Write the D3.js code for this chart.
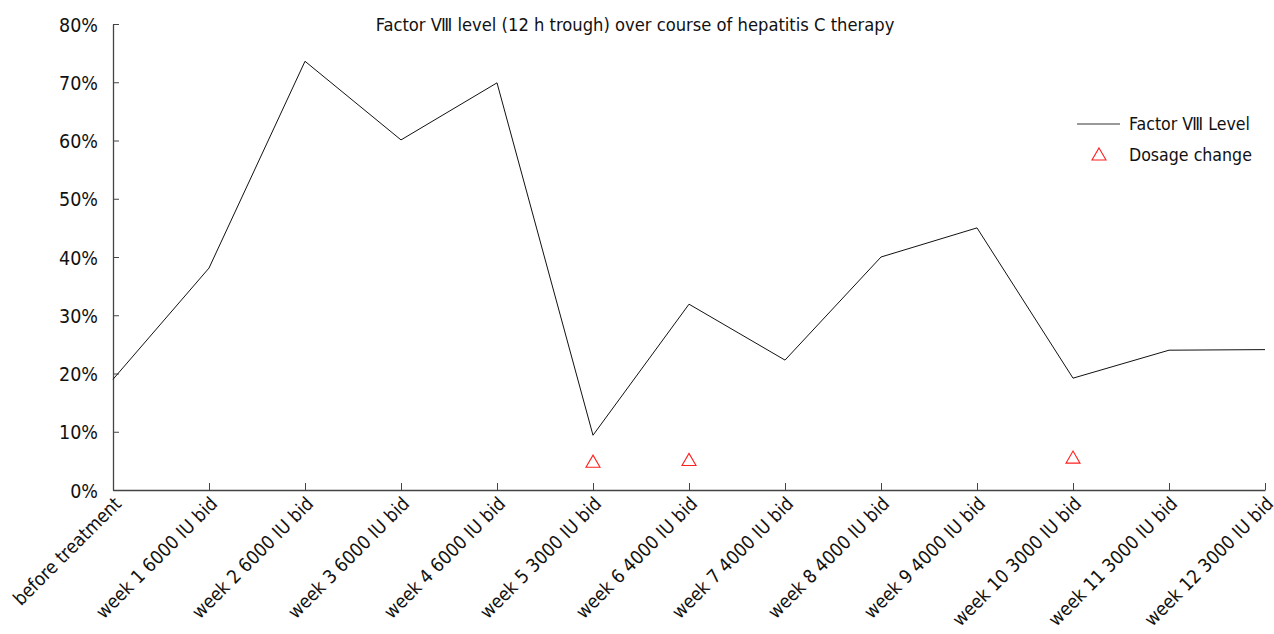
<!DOCTYPE html>
<html><head><meta charset="utf-8">
<script src="https://cdn.jsdelivr.net/npm/d3@7"></script>
<style>body{margin:0;background:#fff}svg{display:block}text{font-family:"DejaVu Sans Condensed","Noto Sans",sans-serif}</style>
</head><body><svg id="c" width="1274" height="634"></svg>
<script>
const categories = ["before treatment","week 1 6000 IU bid","week 2 6000 IU bid","week 3 6000 IU bid","week 4 6000 IU bid","week 5 3000 IU bid","week 6 4000 IU bid","week 7 4000 IU bid","week 8 4000 IU bid","week 9 4000 IU bid","week 10 3000 IU bid","week 11 3000 IU bid","week 12 3000 IU bid"];
const factorLevel = [19, 38.1, 73.6, 60.1, 69.9, 9.4, 31.9, 22.3, 40, 45, 19.2, 24, 24.1];
const dosageCategories = ["week 5 3000 IU bid","week 6 4000 IU bid","week 10 3000 IU bid"];
const dosageValues = [4.6, 4.9, 5.3];
const yTicks = [0,10,20,30,40,50,60,70,80];
const title = "Factor \u2167 level (12 h trough) over course of hepatitis C therapy";

(function(){
const svg = d3.select("#c");
const mLeft = 113, mRight = 1265, mTop = 24, mBottom = 490;
const x = d3.scalePoint().domain(categories).range([mLeft, mRight]);
const y = d3.scaleLinear().domain([0,80]).range([mBottom, mTop]);

const yAxis = svg.append("g").attr("transform",`translate(${mLeft},0)`)
  .call(d3.axisRight(y).tickValues(yTicks).tickSize(6).tickSizeOuter(0).tickFormat(d=>d+"%"));
yAxis.select(".domain").attr("stroke","#444").attr("stroke-width",1.3);
yAxis.selectAll(".tick line").attr("stroke","#444");
yAxis.selectAll(".tick text").attr("x",-15).attr("dy","0.36em").attr("text-anchor","end").attr("font-size",19.5).attr("fill","#111");

const xAxis = svg.append("g").attr("transform",`translate(0,${mBottom})`)
  .call(d3.axisTop(x).tickSize(7).tickSizeOuter(0).tickFormat(()=>""));
xAxis.select(".domain").attr("stroke","#444").attr("stroke-width",1.3);
xAxis.selectAll(".tick line").attr("stroke","#444");
xAxis.selectAll(".tick").append("text")
  .attr("transform","translate(9,15) rotate(-45)")
  .attr("text-anchor","end").attr("font-size",18.7).attr("fill","#111")
  .text(d=>d);

svg.append("path").datum(factorLevel)
  .attr("fill","none").attr("stroke","#111").attr("stroke-width",1)
  .attr("d", d3.line().x((d,i)=>x(categories[i])).y(d=>y(d)));

const tri = d3.symbol().type(d3.symbolTriangle).size(85);
svg.selectAll(".dos").data(dosageValues).enter().append("path")
  .attr("transform",(d,i)=>`translate(${x(dosageCategories[i])},${y(d)})`)
  .attr("d",tri).attr("fill","none").attr("stroke","#ff2020").attr("stroke-width",1.1);

svg.append("text").attr("x",635).attr("y",31).attr("text-anchor","middle")
  .attr("font-size",18.2).attr("fill","#111").text(title);

svg.append("line").attr("x1",1077).attr("x2",1120).attr("y1",124).attr("y2",124).attr("stroke","#333");
svg.append("text").attr("x",1129).attr("y",130).attr("font-size",17.6).attr("fill","#111").text("Factor \u2167 Level");
svg.append("path").attr("transform","translate(1099,156)").attr("d",tri).attr("fill","none").attr("stroke","#ff2020").attr("stroke-width",1.1);
svg.append("text").attr("x",1129).attr("y",161).attr("font-size",17.6).attr("fill","#111").text("Dosage change");
})();
</script></body></html>
